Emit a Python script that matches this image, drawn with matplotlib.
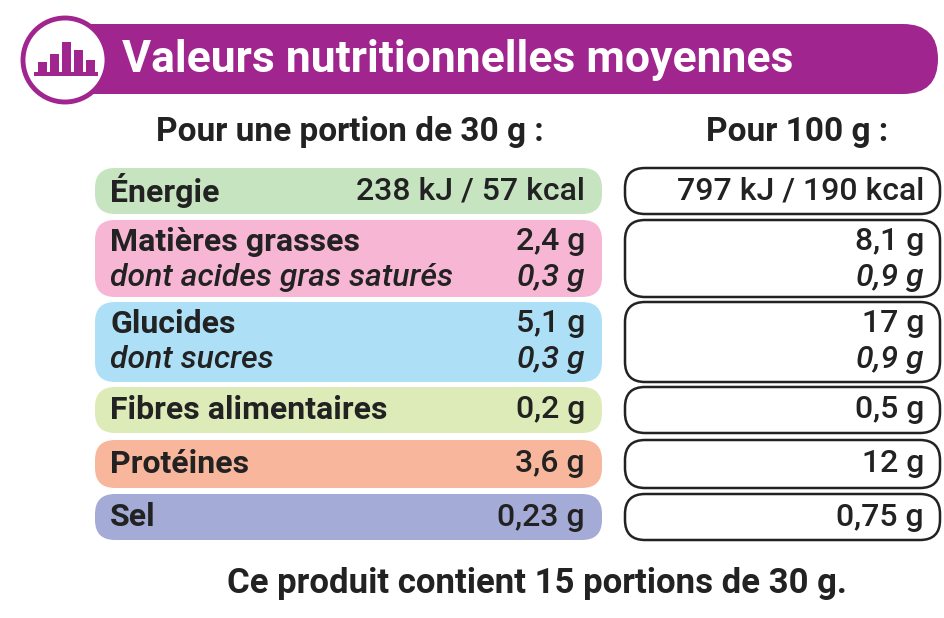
import matplotlib.pyplot as plt
from matplotlib.patches import FancyBboxPatch, Circle, Rectangle

title = "Valeurs nutritionnelles moyennes"
col_heads = ["Pour une portion de 30 g :", "Pour 100 g :"]
footer = "Ce produit contient 15 portions de 30 g."

# each row: (labels, portion values, 100g values, colour)
row_labels = [["Énergie"], ["Matières grasses", "dont acides gras saturés"],
              ["Glucides", "dont sucres"], ["Fibres alimentaires"], ["Protéines"], ["Sel"]]
portion_vals = [["238 kJ / 57 kcal"], ["2,4 g", "0,3 g"], ["5,1 g", "0,3 g"],
                ["0,2 g"], ["3,6 g"], ["0,23 g"]]
per100_vals = [["797 kJ / 190 kcal"], ["8,1 g", "0,9 g"], ["17 g", "0,9 g"],
               ["0,5 g"], ["12 g"], ["0,75 g"]]
row_colors = ["#c6e4c0", "#f6b6d4", "#ade0f6", "#dcebb8", "#f8b79c", "#a4abd7"]
row_spans = [(168, 214), (220, 297), (302, 382), (387, 433), (440, 488), (494, 540)]

purple = "#a0258f"
fam = ["Roboto", "Liberation Sans", "DejaVu Sans"]

fig = plt.figure(figsize=(9.44, 6.18), dpi=100)
ax = fig.add_axes([0, 0, 1, 1])
ax.set_xlim(0, 944)
ax.set_ylim(618, 0)
ax.axis("off")

# header bar
ax.add_patch(FancyBboxPatch((40, 24), 898, 70, boxstyle="round,pad=0,rounding_size=35",
                            fc=purple, ec="none"))
ax.add_patch(Circle((65, 60), 42, fc="white", ec=purple, lw=3.5, zorder=3))
for bx, bh in zip([38, 50, 62, 74, 86], [10, 18, 30, 22, 12]):
    ax.add_patch(Rectangle((bx, 72 - bh), 9, bh, fc=purple, ec="none", zorder=4))
ax.add_patch(Rectangle((34, 72), 64, 4, fc=purple, ec="none", zorder=4))
ax.text(122, 60, title, color="white", fontsize=32, fontweight="bold",
        family=fam, va="center", ha="left")

ax.text(350, 132, col_heads[0], fontsize=24, fontweight="bold", family=fam,
        ha="center", va="center", color="#222222")
ax.text(797, 132, col_heads[1], fontsize=24, fontweight="bold", family=fam,
        ha="center", va="center", color="#222222")

for labels, pv, hv, col, (y0, y1) in zip(row_labels, portion_vals, per100_vals,
                                          row_colors, row_spans):
    ax.add_patch(FancyBboxPatch((95, y0), 507, y1 - y0,
                                boxstyle="round,pad=0,rounding_size=20", fc=col, ec="none"))
    ax.add_patch(FancyBboxPatch((625, y0), 315, y1 - y0,
                                boxstyle="round,pad=0,rounding_size=20", fc="white",
                                ec="#222222", lw=1.8))
    n = len(labels)
    for i in range(n):
        if n == 1:
            yc = (y0 + y1) / 2
        else:
            yc = y0 + 22 + i * 36
        sub = i > 0
        style = "italic" if sub else "normal"
        kw = dict(fontsize=23, family=fam, va="center", color="#222222", style=style)
        ax.text(110, yc, labels[i], ha="left",
                fontweight="medium" if sub else "bold", **kw)
        ax.text(585, yc, pv[i], ha="right", fontweight="medium", **kw)
        ax.text(924, yc, hv[i], ha="right", fontweight="medium", **kw)

ax.text(537, 583, footer, fontsize=25, fontweight="bold", family=fam,
        ha="center", va="center", color="#222222")

fig.savefig("out.png", dpi=100)
